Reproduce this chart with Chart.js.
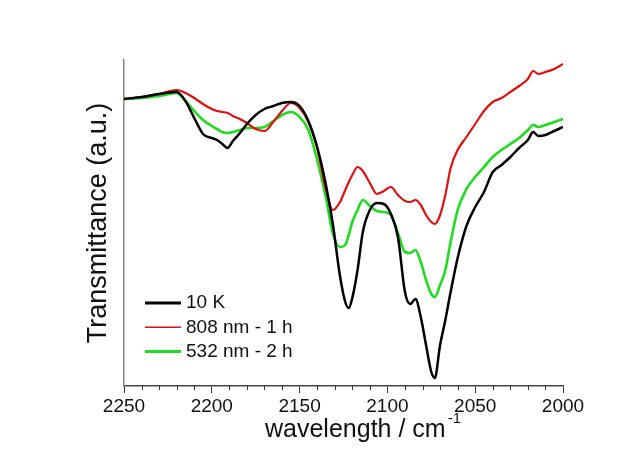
<!DOCTYPE html>
<html>
<head>
<meta charset="utf-8">
<script src="https://cdn.jsdelivr.net/npm/chart.js@4.4.1/dist/chart.umd.min.js"></script>
<style>
  html, body { margin: 0; padding: 0; background: #fff; }
  canvas { display: block; }
</style>
</head>
<body>
<canvas id="espectro" width="641" height="452"></canvas>
<script>
// numero de onda (cm-1) y transmitancia (u.a.) de cada espectro
const wavenumber = [2250, 2240, 2230, 2220, 2215, 2210, 2205, 2200, 2197, 2194, 2191, 2188,
  2184, 2180, 2175, 2170, 2165, 2160, 2155, 2150, 2145, 2140, 2135, 2131, 2127, 2124, 2122, 2120,
  2117, 2114, 2110, 2106, 2102, 2098, 2094, 2090, 2087, 2084, 2081, 2078, 2075, 2073, 2070, 2067,
  2064, 2060, 2055, 2050, 2045, 2040, 2035, 2030, 2025, 2020, 2017, 2014, 2010, 2005, 2000];

const t10K = [287, 289, 292, 294, 285, 268, 252, 248, 246, 242, 238, 245,
  253, 262, 271, 277, 280, 283, 284, 280, 265, 239, 201, 161, 110, 84, 78, 88,
  116, 154, 176, 183, 182, 172, 149, 94, 82, 87, 69, 41, 14, 8, 41, 66,
  94, 128, 160, 179, 194, 214, 221, 229, 238, 246, 254, 250, 251, 255, 259];

const t808 = [287, 289, 292, 296, 293, 288, 282, 277, 275, 274, 273, 270,
  267, 263, 257, 255, 264, 275, 283, 278, 264, 238, 196, 176, 184, 196, 204, 211,
  219, 215, 203, 192, 195, 199, 191, 185, 184, 186, 181, 171, 164, 162, 171, 191,
  218, 236, 249, 262, 275, 284, 288, 294, 300, 307, 315, 312, 314, 317, 322];

const t532 = [287, 288, 290, 293, 285, 275, 266, 260, 257, 254, 253, 254,
  256, 258, 258, 259, 265, 271, 274, 269, 256, 226, 188, 152, 139, 141, 151, 164,
  176, 186, 180, 175, 174, 171, 153, 134, 133, 136, 124, 106, 92, 89, 101, 116,
  144, 176, 197, 209, 219, 229, 236, 242, 248, 256, 261, 259, 261, 264, 267];

const xTicks = [2250, 2200, 2150, 2100, 2050, 2000];
const pasoMenor = 10;

const fuente = '"Liberation Sans", Arial, sans-serif';
Chart.defaults.font.family = fuente;
Chart.defaults.color = '#111';

const puntos = serie => wavenumber.map((w, i) => ({ x: w, y: serie[i] }));

// ticks menores cada 10 cm-1 bajo el eje x
const ticksMenores = {
  id: 'ticksMenores',
  afterDraw(chart) {
    const sx = chart.scales.x;
    const { ctx, chartArea } = chart;
    ctx.save();
    ctx.strokeStyle = '#333';
    ctx.lineWidth = 1;
    for (let v = sx.min; v <= sx.max; v += pasoMenor) {
      if (xTicks.includes(v)) continue;
      const px = Math.round(sx.getPixelForValue(v)) + 0.5;
      ctx.beginPath();
      ctx.moveTo(px, chartArea.bottom);
      ctx.lineTo(px, chartArea.bottom + 4);
      ctx.stroke();
    }
    ctx.restore();
  }
};

// leyenda dentro del area, abajo a la izquierda
const leyendaInterna = {
  id: 'leyendaInterna',
  afterDatasetsDraw(chart) {
    const { ctx, chartArea } = chart;
    ctx.save();
    ctx.font = '19px ' + fuente;
    ctx.textBaseline = 'middle';
    chart.data.datasets.forEach((ds, i) => {
      const y = chartArea.top + 243 + i * 24.3;
      ctx.strokeStyle = ds.borderColor;
      ctx.lineWidth = ds.grosorLeyenda;
      ctx.beginPath();
      ctx.moveTo(chartArea.left + 21, y);
      ctx.lineTo(chartArea.left + 57, y);
      ctx.stroke();
      ctx.fillStyle = '#111';
      ctx.fillText(ds.label, chartArea.left + 62, y);
    });
    ctx.restore();
  }
};

// titulo del eje x con superindice
const tituloX = {
  id: 'tituloX',
  afterDraw(chart) {
    const { ctx, chartArea } = chart;
    ctx.save();
    ctx.fillStyle = '#111';
    ctx.textBaseline = 'alphabetic';
    ctx.font = '25px ' + fuente;
    const base = 'wavelength / cm';
    const x0 = chartArea.left + 141;
    const y0 = chartArea.bottom + 51;
    ctx.fillText(base, x0, y0);
    const w = ctx.measureText(base).width;
    ctx.font = '15px ' + fuente;
    ctx.fillText('-1', x0 + w + 2, y0 - 14);
    ctx.restore();
  }
};

new Chart(document.getElementById('espectro'), {
  type: 'line',
  data: {
    datasets: [
      { label: '10 K', data: puntos(t10K), borderColor: '#000000', borderWidth: 2.5, grosorLeyenda: 3 },
      { label: '808 nm - 1 h', data: puntos(t808), borderColor: '#e01010', borderWidth: 2.2, grosorLeyenda: 1.5 },
      { label: '532 nm - 2 h', data: puntos(t532), borderColor: '#1edc1e', borderWidth: 2.6, grosorLeyenda: 3 }
    ]
  },
  options: {
    responsive: false,
    animation: false,
    devicePixelRatio: 1,
    layout: { padding: { top: 60, right: 78, left: 0, bottom: 0 } },
    elements: {
      point: { radius: 0 },
      line: { cubicInterpolationMode: 'monotone', fill: false }
    },
    plugins: {
      legend: { display: false },
      tooltip: { enabled: false }
    },
    scales: {
      x: {
        type: 'linear',
        reverse: true,
        min: 2000,
        max: 2250,
        afterBuildTicks: scale => { scale.ticks = xTicks.map(v => ({ value: v })); },
        afterFit: scale => { scale.height = 66; },
        border: { display: true, color: '#444', width: 1.5 },
        grid: { display: true, drawOnChartArea: false, drawTicks: true, tickLength: 7, tickColor: '#333', tickWidth: 1 },
        ticks: { font: { size: 19 }, color: '#111', padding: 2, maxRotation: 0, callback: v => String(v) }
      },
      y: {
        min: 0,
        max: 326,
        afterFit: scale => { scale.width = 124; },
        border: { display: true, color: '#888', width: 1.5 },
        grid: { display: false },
        ticks: { display: false },
        title: {
          display: true,
          text: 'Transmittance (a.u.)',
          font: { size: 27 },
          color: '#111',
          padding: { top: 82, bottom: 0 }
        }
      }
    }
  },
  plugins: [ticksMenores, leyendaInterna, tituloX]
});
</script>
</body>
</html>
